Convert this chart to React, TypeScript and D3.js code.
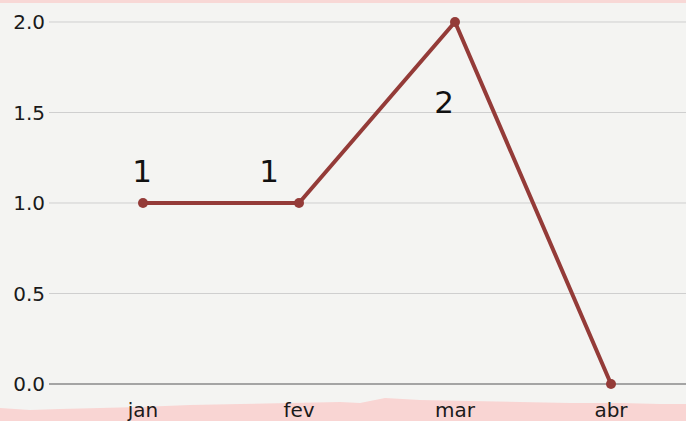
import React from "react";
import * as d3 from "d3";

const categories = ["jan", "fev", "mar", "abr"];
const values = [1, 1, 2, 0];
const yTicks = [0, 0.5, 1.0, 1.5, 2.0];
const labelTexts = ["1", "1", "2", ""];
const labelOffsetX = [-1, -30, -11, 0];
const labelOffsetY = [-21, -21, 91, 0];

const W = 686;
const H = 421;

export default function App() {
  const x = d3.scaleBand<string>().domain(categories).range([65, 689]);
  const y = d3.scaleLinear().domain([0, 2]).range([384, 22]);
  const cx = (c: string) => (x(c) ?? 0) + x.bandwidth() / 2;
  const line = d3
    .line<number>()
    .x((_, i) => cx(categories[i]))
    .y((d) => y(d));
  const bottomEdge =
    "M0,408 L30,410 L60,409 L100,408 L140,407 L190,405 L240,404 L290,403 L340,402 L360,403 L385,398 L420,400 L470,401 L520,402 L570,403 L620,403 L660,404 L686,404 L686,421 L0,421 Z";
  return (
    <svg width={W} height={H} style={{ position: "absolute", left: 0, top: 0 }}>
      <rect x={0} y={0} width={W} height={H} fill="#f4f4f2" />
      <rect x={0} y={0} width={W} height={3} fill="#f8d8d6" />
      <path d={bottomEdge} fill="#f9d5d3" />
      {yTicks.map((t) => (
        <g key={t}>
          <line
            x1={49}
            x2={W}
            y1={y(t)}
            y2={y(t)}
            stroke={t === 0 ? "#8a8a8a" : "#cfcfcf"}
            strokeWidth={t === 0 ? 1.5 : 1}
          />
          <text
            x={45}
            y={y(t)}
            dy="0.36em"
            textAnchor="end"
            fontFamily="'DejaVu Sans', sans-serif"
            fontSize={20}
            fill="#1a1a1a"
          >
            {t.toFixed(1)}
          </text>
        </g>
      ))}
      {categories.map((c) => (
        <text
          key={c}
          x={cx(c)}
          y={417}
          textAnchor="middle"
          fontFamily="'DejaVu Sans', sans-serif"
          fontSize={20}
          fill="#1a1a1a"
        >
          {c}
        </text>
      ))}
      <path d={line(values) ?? ""} fill="none" stroke="#943b38" strokeWidth={4} strokeLinejoin="round" />
      {values.map((v, i) => (
        <circle key={i} cx={cx(categories[i])} cy={y(v)} r={5} fill="#943b38" />
      ))}
      {values.map((v, i) =>
        labelTexts[i] ? (
          <text
            key={"l" + i}
            x={cx(categories[i]) + labelOffsetX[i]}
            y={y(v) + labelOffsetY[i]}
            textAnchor="middle"
            fontFamily="'DejaVu Sans', sans-serif"
            fontSize={31}
            fill="#111"
          >
            {labelTexts[i]}
          </text>
        ) : null
      )}
    </svg>
  );
}
